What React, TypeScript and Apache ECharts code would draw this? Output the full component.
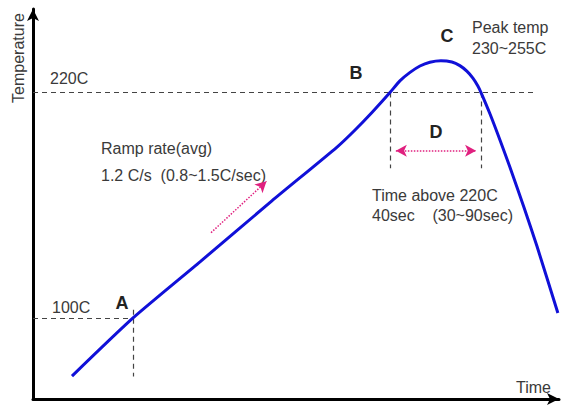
import React, { useEffect, useRef } from "react";
import * as echarts from "echarts";

// Reflow profile curve (time in s, temperature in °C)
const curveTime = [17.3, 44.4, 74.1, 106.0, 134.9, 142.9, 150.4, 158.4, 162.8, 167.3, 171.7, 176.1, 181.0, 185.9, 189.4, 192.5, 195.2, 197.4, 198.8, 202.8, 207.2, 211.6, 217.8, 223.6, 232.9];
const curveTemp = [69.3, 100.2, 130.0, 162.4, 191.0, 200.1, 209.4, 220.0, 226.2, 230.7, 234.1, 236.1, 236.9, 236.2, 234.3, 231.4, 227.7, 223.5, 220.0, 208.6, 194.8, 180.4, 159.2, 138.4, 102.8];

// Guide lines: [t1, T1, t2, T2]
const guideLines: number[][] = [
  [0, 220, 223.6, 220],
  [0, 100, 44.4, 100],
  [44.4, 104.5, 44.4, 69],
  [158.4, 220, 158.4, 179.8],
  [198.8, 220, 198.8, 179.8],
];
const rampArrow = [79.0, 145.5, 103.6, 172.8];
const dArrow = [161.0, 189.1, 196.6, 189.1];

const xMin = 0, xMax = 233.4;
const yMin = 57.1, yMax = 264.4;

const FONT = "Liberation Sans, Arial, sans-serif";

export default function App() {
  const ref = useRef<HTMLDivElement>(null);
  useEffect(() => {
    document.body.style.margin = "0";
    const chart = echarts.init(ref.current!, undefined, { renderer: "svg" });
    const txt = (text: string, x: number, y: number, size = 16, bold = false, color = "#3a3a3a", extra: any = {}) => ({
      type: "text",
      x,
      y,
      silent: true,
      ...extra,
      style: {
        text,
        font: `${bold ? "bold " : ""}${size}px ${FONT}`,
        fill: color,
        textAlign: extra.textAlign || "left",
        textVerticalAlign: "middle",
      },
    });
    chart.setOption({
      animation: false,
      grid: { left: 33, right: 8, top: 9, bottom: 8 },
      xAxis: {
        type: "value",
        min: xMin,
        max: xMax,
        axisLine: { show: true, symbol: ["none", "arrow"], symbolSize: [9, 12], lineStyle: { color: "#000", width: 3 } },
        axisTick: { show: false },
        axisLabel: { show: false },
        splitLine: { show: false },
      },
      yAxis: {
        type: "value",
        min: yMin,
        max: yMax,
        axisLine: { show: true, onZero: false, symbol: ["none", "arrow"], symbolSize: [9, 12], lineStyle: { color: "#000", width: 3 } },
        axisTick: { show: false },
        axisLabel: { show: false },
        splitLine: { show: false },
      },
      series: [
        {
          type: "line",
          data: curveTime.map((t, i) => [t, curveTemp[i]]),
          smooth: 0.2,
          symbol: "none",
          lineStyle: { color: "#1010d8", width: 3 },
          z: 5,
          markLine: {
            silent: true,
            symbol: ["none", "none"],
            label: { show: false },
            lineStyle: { color: "#444", width: 1.2, type: [5, 4] },
            data: guideLines.map((g) => [{ coord: [g[0], g[1]] }, { coord: [g[2], g[3]] }]),
          },
        },
        {
          type: "line",
          data: [],
          markLine: {
            silent: true,
            symbol: ["none", "arrow"],
            symbolSize: [9, 11],
            label: { show: false },
            lineStyle: { color: "#e0207f", width: 1.5, type: "dotted" },
            data: [[{ coord: [rampArrow[0], rampArrow[1]] }, { coord: [rampArrow[2], rampArrow[3]] }]],
          },
        },
        {
          type: "line",
          data: [],
          markLine: {
            silent: true,
            symbol: ["arrow", "arrow"],
            symbolSize: [9, 11],
            label: { show: false },
            lineStyle: { color: "#e0207f", width: 1.5, type: "dotted" },
            data: [[{ coord: [dArrow[0], dArrow[1]] }, { coord: [dArrow[2], dArrow[3]] }]],
          },
        },
      ],
      graphic: [
        txt("Temperature", 18, 58, 16, false, "#3a3a3a", { rotation: Math.PI / 2, textAlign: "center" }),
        txt("Time", 516, 387, 16),
        txt("220C", 50, 78, 16),
        txt("100C", 52, 307, 16),
        txt("A", 122, 303, 18, true, "#222", { textAlign: "center" }),
        txt("B", 356, 73, 18, true, "#222", { textAlign: "center" }),
        txt("C", 447, 36, 18, true, "#222", { textAlign: "center" }),
        txt("D", 436, 132, 18, true, "#222", { textAlign: "center" }),
        txt("Ramp rate(avg)", 101, 148, 16),
        txt("1.2 C/s  (0.8~1.5C/sec)", 101, 175, 16),
        txt("Peak temp", 472, 27, 16),
        txt("230~255C", 472, 48, 16),
        txt("Time above 220C", 372, 195, 16),
        txt("40sec    (30~90sec)", 372, 215, 16),
      ],
    });
    return () => chart.dispose();
  }, []);
  return <div ref={ref} style={{ width: 567, height: 407 }} />;
}
